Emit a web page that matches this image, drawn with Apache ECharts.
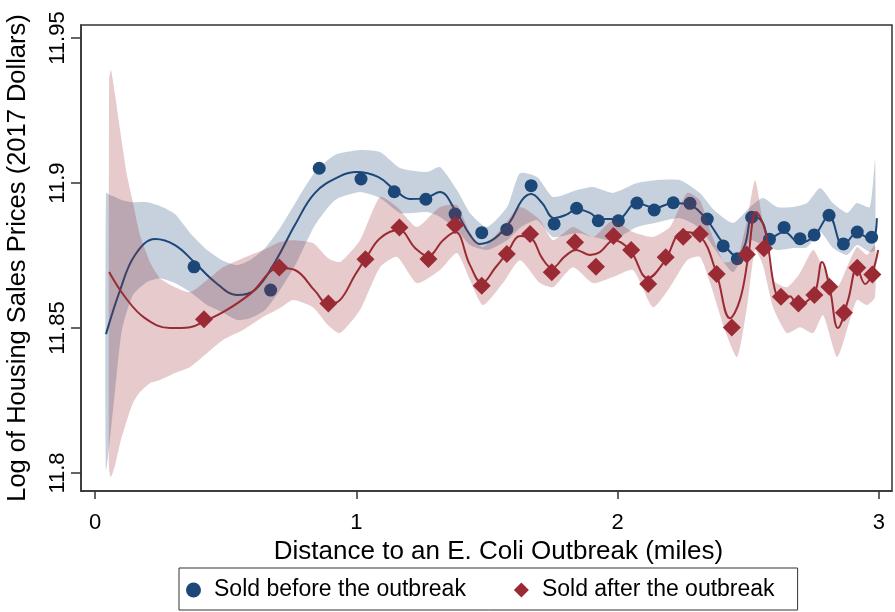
<!DOCTYPE html>
<html>
<head>
<meta charset="utf-8">
<title>E. Coli outbreak and housing prices</title>
<script src="https://cdn.jsdelivr.net/npm/echarts@6/dist/echarts.min.js"></script>
<style>
  html, body { margin: 0; padding: 0; background: #fff; }
  #chart { width: 895px; height: 612px; }
</style>
</head>
<body>
<div id="chart"></div>
<script>
// binned means (markers)
var beforeName = 'Sold before the outbreak';
var afterName = 'Sold after the outbreak';

var beforeX = [0.379, 0.672, 0.858, 1.018, 1.145, 1.266, 1.378, 1.480, 1.576, 1.669, 1.757, 1.843, 1.926, 2.003, 2.074,
  2.140, 2.213, 2.277, 2.343, 2.404, 2.458, 2.513, 2.581, 2.637, 2.698, 2.752, 2.809, 2.864, 2.917, 2.972];
var beforeY = [11.8711, 11.8631, 11.9051, 11.9014, 11.8970, 11.8944, 11.8893, 11.8829, 11.8840, 11.8991, 11.8859, 11.8913, 11.8870, 11.8870, 11.8931,
  11.8907, 11.8932, 11.8930, 11.8876, 11.8783, 11.8739, 11.8882, 11.8806, 11.8847, 11.8808, 11.8821, 11.8889, 11.8790, 11.8831, 11.8813];

var afterX = [0.417, 0.705, 0.893, 1.035, 1.165, 1.276, 1.378, 1.480, 1.576, 1.665, 1.748, 1.837, 1.917, 1.984, 2.052,
  2.117, 2.184, 2.251, 2.315, 2.379, 2.437, 2.494, 2.560, 2.625, 2.692, 2.753, 2.810, 2.866, 2.917, 2.975];
var afterY = [11.8530, 11.8709, 11.8585, 11.8737, 11.8847, 11.8738, 11.8855, 11.8646, 11.8755, 11.8824, 11.8692, 11.8796, 11.8711, 11.8817, 11.8769,
  11.8652, 11.8744, 11.8815, 11.8824, 11.8686, 11.8502, 11.8754, 11.8775, 11.8608, 11.8585, 11.8614, 11.8642, 11.8553, 11.8708, 11.8685];

// fitted curves
var beforeFitX = [0.042, 0.096, 0.153, 0.230, 0.306, 0.379, 0.459, 0.543, 0.612, 0.689, 0.765, 0.842, 0.938, 1.003, 1.083,
  1.148, 1.205, 1.263, 1.320, 1.378, 1.435, 1.473, 1.531, 1.588, 1.634, 1.669, 1.711, 1.757, 1.802, 1.845,
  1.894, 1.932, 2.000, 2.074, 2.143, 2.212, 2.277, 2.342, 2.400, 2.457, 2.487, 2.518, 2.553, 2.583, 2.637,
  2.698, 2.752, 2.809, 2.863, 2.916, 2.973, 2.992];
var beforeFitY = [11.8479, 11.8631, 11.8752, 11.8807, 11.8786, 11.8728, 11.8659, 11.8614, 11.8631, 11.8728, 11.8855, 11.8966, 11.9024, 11.9038, 11.9021,
  11.8976, 11.8945, 11.8948, 11.8969, 11.8907, 11.8821, 11.8790, 11.8810, 11.8866, 11.8941, 11.8962, 11.8931, 11.8879, 11.8890, 11.8910,
  11.8897, 11.8876, 11.8876, 11.8931, 11.8914, 11.8931, 11.8924, 11.8872, 11.8797, 11.8748, 11.8786, 11.8890, 11.8866, 11.8810, 11.8831,
  11.8793, 11.8817, 11.8886, 11.8783, 11.8828, 11.8803, 11.8879];

var afterFitX = [0.054, 0.115, 0.191, 0.287, 0.364, 0.421, 0.498, 0.593, 0.708, 0.765, 0.842, 0.892, 0.938, 0.995, 1.037,
  1.091, 1.163, 1.225, 1.274, 1.332, 1.378, 1.435, 1.481, 1.531, 1.577, 1.627, 1.669, 1.711, 1.749, 1.799,
  1.841, 1.894, 1.932, 1.986, 2.047, 2.116, 2.178, 2.250, 2.315, 2.377, 2.430, 2.468, 2.499, 2.530, 2.564,
  2.602, 2.629, 2.660, 2.691, 2.721, 2.756, 2.782, 2.813, 2.843, 2.882, 2.916, 2.947, 2.973, 2.997];
var afterFitY = [11.8693, 11.8607, 11.8534, 11.8500, 11.8503, 11.8524, 11.8559, 11.8617, 11.8707, 11.8700, 11.8628, 11.8583, 11.8597, 11.8683, 11.8741,
  11.8810, 11.8838, 11.8776, 11.8748, 11.8803, 11.8831, 11.8717, 11.8655, 11.8707, 11.8759, 11.8817, 11.8810, 11.8741, 11.8707, 11.8748,
  11.8769, 11.8752, 11.8762, 11.8803, 11.8769, 11.8672, 11.8728, 11.8831, 11.8817, 11.8693, 11.8534, 11.8597, 11.8741, 11.8900, 11.8838,
  11.8631, 11.8590, 11.8610, 11.8569, 11.8590, 11.8624, 11.8728, 11.8631, 11.8500, 11.8597, 11.8707, 11.8652, 11.8686, 11.8769];

// confidence bands
var beforeBandX = [0.042, 0.057, 0.077, 0.103, 0.145, 0.199, 0.249, 0.306, 0.364, 0.429,
  0.486, 0.543, 0.593, 0.651, 0.708, 0.773, 0.842, 0.918, 1.014, 1.091,
  1.167, 1.271, 1.320, 1.385, 1.435, 1.500, 1.577, 1.626, 1.692, 1.753,
  1.845, 1.906, 1.982, 2.074, 2.143, 2.239, 2.315, 2.369, 2.442, 2.507,
  2.556, 2.610, 2.671, 2.725, 2.775, 2.824, 2.878, 2.916, 2.965, 2.985];
var beforeBandHi = [11.8966, 11.8959, 11.8952, 11.8941, 11.8934, 11.8934, 11.8921, 11.8893, 11.8828, 11.8769,
  11.8734, 11.8717, 11.8734, 11.8776, 11.8845, 11.8941, 11.9038, 11.9097, 11.9114, 11.9107,
  11.9052, 11.9038, 11.9055, 11.8976, 11.8897, 11.8848, 11.8917, 11.9034, 11.9021, 11.8952,
  11.8976, 11.8986, 11.8966, 11.9000, 11.9010, 11.9010, 11.8966, 11.8907, 11.8862, 11.8917,
  11.8948, 11.8917, 11.8917, 11.8931, 11.8983, 11.8931, 11.8897, 11.8931, 11.8917, 11.9079];
var beforeBandLo = [11.8010, 11.8114, 11.8286, 11.8493, 11.8614, 11.8659, 11.8672, 11.8655, 11.8624, 11.8579,
  11.8555, 11.8528, 11.8534, 11.8562, 11.8631, 11.8728, 11.8855, 11.8941, 11.8969, 11.8948,
  11.8897, 11.8900, 11.8883, 11.8838, 11.8786, 11.8769, 11.8803, 11.8845, 11.8872, 11.8814,
  11.8828, 11.8814, 11.8803, 11.8848, 11.8862, 11.8879, 11.8845, 11.8776, 11.8693, 11.8803,
  11.8786, 11.8769, 11.8776, 11.8779, 11.8831, 11.8776, 11.8752, 11.8786, 11.8762, 11.8769];

var afterBandX = [0.054, 0.061, 0.077, 0.096, 0.122, 0.145, 0.172, 0.210, 0.249, 0.306,
  0.364, 0.429, 0.490, 0.566, 0.643, 0.708, 0.758, 0.834, 0.892, 0.938,
  1.014, 1.091, 1.156, 1.232, 1.320, 1.385, 1.435, 1.485, 1.561, 1.626,
  1.703, 1.753, 1.829, 1.906, 1.982, 2.059, 2.135, 2.200, 2.266, 2.315,
  2.354, 2.407, 2.457, 2.495, 2.526, 2.556, 2.595, 2.648, 2.698, 2.748,
  2.786, 2.840, 2.889, 2.916, 2.954, 2.985];
var afterBandHi = [11.9355, 11.9390, 11.9303, 11.9183, 11.9028, 11.8934, 11.8821, 11.8728, 11.8672, 11.8641,
  11.8624, 11.8666, 11.8710, 11.8741, 11.8769, 11.8797, 11.8803, 11.8793, 11.8741, 11.8728,
  11.8803, 11.8952, 11.8917, 11.8848, 11.8917, 11.8924, 11.8828, 11.8779, 11.8848, 11.8917,
  11.8872, 11.8803, 11.8848, 11.8814, 11.8872, 11.8831, 11.8814, 11.8848, 11.8966, 11.8941,
  11.8838, 11.8728, 11.8741, 11.8872, 11.9010, 11.8862, 11.8666, 11.8641, 11.8690, 11.8769,
  11.8710, 11.8641, 11.8734, 11.8779, 11.8752, 11.8786];
var afterBandLo = [11.8010, 11.7986, 11.8028, 11.8103, 11.8183, 11.8241, 11.8279, 11.8310, 11.8321, 11.8345,
  11.8366, 11.8414, 11.8459, 11.8493, 11.8538, 11.8569, 11.8597, 11.8572, 11.8510, 11.8483,
  11.8562, 11.8710, 11.8745, 11.8655, 11.8700, 11.8759, 11.8666, 11.8579, 11.8655, 11.8734,
  11.8655, 11.8641, 11.8710, 11.8655, 11.8676, 11.8700, 11.8572, 11.8641, 11.8734, 11.8745,
  11.8655, 11.8503, 11.8400, 11.8572, 11.8769, 11.8717, 11.8572, 11.8483, 11.8503, 11.8483,
  11.8545, 11.8400, 11.8528, 11.8597, 11.8579, 11.8607];

// axes
var xTicks = [0, 1, 2, 3];
var yTicks = [11.8, 11.85, 11.9, 11.95];
var yTickLabels = ['11.8', '11.85', '11.9', '11.95'];

var BLUE = '#1b4878';
var RED = '#9a2b34';
var FONT = '"Liberation Sans", Arial, sans-serif';

function pairs(xs, ys) {
  return xs.map(function (x, i) { return [x, ys[i]]; });
}

// shaded CI band: one polygon through the axis scales (upper edge, then lower edge back)
function bandSeries(xs, lo, hi, fill, z) {
  return {
    type: 'custom',
    silent: true,
    z: z,
    clip: true,
    data: xs.map(function (x, i) { return [x, lo[i], hi[i]]; }),
    encode: { x: 0, y: [1, 2] },
    renderItem: function (params, api) {
      if (params.dataIndex !== 0) return;
      var n = params.dataInsideLength;
      var top = [], bottom = [];
      for (var i = 0; i < n; i++) {
        top.push(api.coord([api.value(0, i), api.value(2, i)]));
        bottom.push(api.coord([api.value(0, i), api.value(1, i)]));
      }
      return {
        type: 'polygon',
        shape: { points: top.concat(bottom.reverse()), smooth: 0.2 },
        style: { fill: fill }
      };
    }
  };
}

var chart = echarts.init(document.getElementById('chart'));

var series = [
  bandSeries(beforeBandX, beforeBandLo, beforeBandHi, 'rgba(27,72,120,0.25)', 1),
  { type: 'line', name: 'beforeFit', data: pairs(beforeFitX, beforeFitY), symbol: 'none', smooth: 0.4,
    lineStyle: { color: BLUE, width: 2 }, silent: true, z: 2 },
  { type: 'scatter', name: beforeName, data: pairs(beforeX, beforeY), symbol: 'circle', symbolSize: 13,
    itemStyle: { color: BLUE, opacity: 1 }, z: 3 },
  bandSeries(afterBandX, afterBandLo, afterBandHi, 'rgba(154,43,52,0.25)', 4),
  { type: 'line', name: 'afterFit', data: pairs(afterFitX, afterFitY), symbol: 'none', smooth: 0.4,
    lineStyle: { color: RED, width: 2 }, silent: true, z: 5 },
  { type: 'scatter', name: afterName, data: pairs(afterX, afterY), symbol: 'diamond', symbolSize: 18,
    itemStyle: { color: RED, opacity: 1 }, z: 6 }
];

var option = {
  animation: false,
  backgroundColor: '#fff',
  grid: {
    left: 81, right: 3, top: 25, bottom: 121,
    show: true, borderColor: '#333', borderWidth: 1.5, backgroundColor: '#fff',
    outerBoundsMode: 'none'
  },
  legend: {
    data: [{ name: beforeName, icon: 'circle' }, { name: afterName, icon: 'diamond' }],
    left: 179, top: 568,
    itemWidth: 15, itemHeight: 15, itemGap: 48,
    padding: [9, 23, 7, 7],
    borderColor: '#333', borderWidth: 1,
    selectedMode: false,
    textStyle: { fontSize: 23, lineHeight: 26, color: '#000', fontFamily: FONT, padding: [0, 0, 0, 8] }
  },
  xAxis: {
    type: 'value', min: -0.0536, max: 3.05,
    name: 'Distance to an E. Coli Outbreak (miles)',
    nameLocation: 'middle', nameGap: 44,
    nameTextStyle: { fontSize: 26, color: '#000', fontFamily: FONT, padding: [0, 0, 0, 24] },
    axisLine: { show: true, onZero: false, lineStyle: { color: '#333', width: 1.5 } },
    axisTick: { show: true, inside: false, customValues: xTicks, length: 8, lineStyle: { color: '#333', width: 1.5 } },
    axisLabel: { customValues: xTicks, fontSize: 22, color: '#000', fontFamily: FONT, margin: 21 },
    splitLine: { show: false }
  },
  yAxis: {
    type: 'value', min: 11.7938, max: 11.9545,
    name: 'Log of Housing Sales Prices (2017 Dollars)',
    nameLocation: 'middle', nameGap: 50,
    nameTextStyle: { fontSize: 25.5, color: '#000', fontFamily: FONT },
    axisLine: { show: true, onZero: false, lineStyle: { color: '#333', width: 1.5 } },
    axisTick: { show: true, inside: false, customValues: yTicks, length: 10, lineStyle: { color: '#333', width: 1.5 } },
    axisLabel: {
      customValues: yTicks, rotate: 90, fontSize: 22, color: '#000', fontFamily: FONT, margin: 12,
      formatter: function (v) {
        for (var i = 0; i < yTicks.length; i++) {
          if (Math.abs(v - yTicks[i]) < 1e-9) return yTickLabels[i];
        }
        return '';
      }
    },
    splitLine: { show: false }
  },
  series: series
};

chart.setOption(option);
</script>
</body>
</html>
